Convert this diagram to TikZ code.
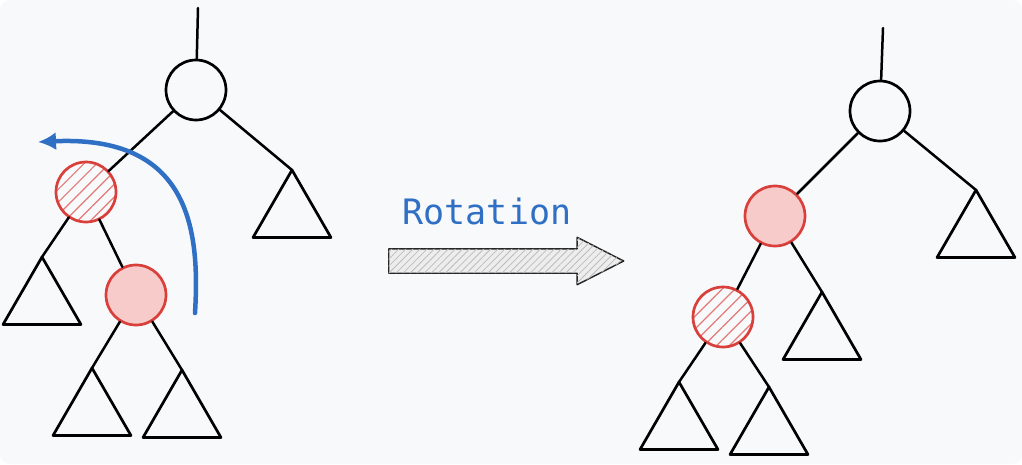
\documentclass[tikz,border=0pt]{standalone}
\usepackage{fontspec}
\newfontfamily\monofont{DejaVu Sans Mono}
\usepackage{tikz}
\usetikzlibrary{shapes.geometric,shapes.arrows,patterns.meta,arrows.meta}
\definecolor{bgcol}{HTML}{F8F9FB}
\definecolor{redline}{HTML}{D9403C}
\definecolor{redfill}{HTML}{F8CBCB}
\definecolor{bluecol}{HTML}{2F6FC4}
\definecolor{hatchgray}{HTML}{BDBDBD}

\begin{document}
\begin{tikzpicture}[x=1pt,y=-1pt,line cap=round,line join=round,
    knot/.style={circle, inner sep=0pt, minimum size=60pt, draw=black, line width=2.7pt},
    redknot/.style={knot, draw=redline, fill=redfill},
    hatchknot/.style={knot, draw=redline, pattern={Lines[angle=45,distance=9pt,line width=1.2pt]}, pattern color=redline!70},
    subtree/.style={regular polygon, regular polygon sides=3, minimum size=90pt, inner sep=0pt, outer sep=0pt, draw, line width=2.7pt},
    edge/.style={line width=2.5pt}]
  \useasboundingbox (0,0) rectangle (1022,464);
  \fill[white] (0,0) rectangle (1022,464);
  \fill[bgcol, rounded corners=10pt] (0,0) rectangle (1022,464);

  % before the rotation
  \coordinate (ltop) at (198,8);
  \node[name=lroot, knot] at (196,90){};
  \node[name=lhatch, hatchknot] at (86,192){};
  \node[name=lpink, redknot] at (136,295){};
  \node[name=lt1, subtree] at (292,215){};
  \node[name=lt2, subtree] at (42,302){};
  \node[name=lt3, subtree] at (92,413){};
  \node[name=lt4, subtree] at (182,415){};
  \draw[edge] (ltop) -- (lroot);
  \draw[edge] (lroot) -- (lhatch);
  \draw[edge] (lroot) -- (lt1.corner 1);
  \draw[edge] (lhatch) -- (lt2.corner 1);
  \draw[edge] (lhatch) -- (lpink);
  \draw[edge] (lpink) -- (lt3.corner 1);
  \draw[edge] (lpink) -- (lt4.corner 1);

  % the turn
  \coordinate (turnstart) at (195,313);
  \coordinate (turnend) at (38,142);
  \draw[bluecol, line width=4.5pt, -{Latex[length=18pt,width=18pt]}]
    (turnstart) .. controls (200,230) and (190,135) .. (turnend);

  % label and fat arrow
  \node[name=rotlabel, text=bluecol, font=\monofont\fontsize{35}{40}\selectfont] at (487,211){Rotation};
  \node[name=fatarrow, single arrow, draw=black!85, line width=1.4pt, inner xsep=0pt, inner ysep=11.5pt,
        minimum height=235pt, single arrow head extend=11.5pt,
        single arrow tip angle=54, fill=white!93!black, anchor=tail,
        postaction={pattern={Lines[angle=45,distance=5pt,line width=0.8pt]}, pattern color=hatchgray}]
        at (388,261){};

  % after the rotation
  \coordinate (rtop) at (883,28);
  \node[name=rroot, knot] at (880,111){};
  \node[name=rpink, redknot] at (775,216){};
  \node[name=rhatch, hatchknot] at (723,317){};
  \node[name=rt1, subtree] at (976,235){};
  \node[name=rt2, subtree] at (822,337){};
  \node[name=rt3, subtree] at (679,427){};
  \node[name=rt4, subtree] at (769,432){};
  \draw[edge] (rtop) -- (rroot);
  \draw[edge] (rroot) -- (rpink);
  \draw[edge] (rroot) -- (rt1.corner 1);
  \draw[edge] (rpink) -- (rhatch);
  \draw[edge] (rpink) -- (rt2.corner 1);
  \draw[edge] (rhatch) -- (rt3.corner 1);
  \draw[edge] (rhatch) -- (rt4.corner 1);
\end{tikzpicture}
\end{document}
